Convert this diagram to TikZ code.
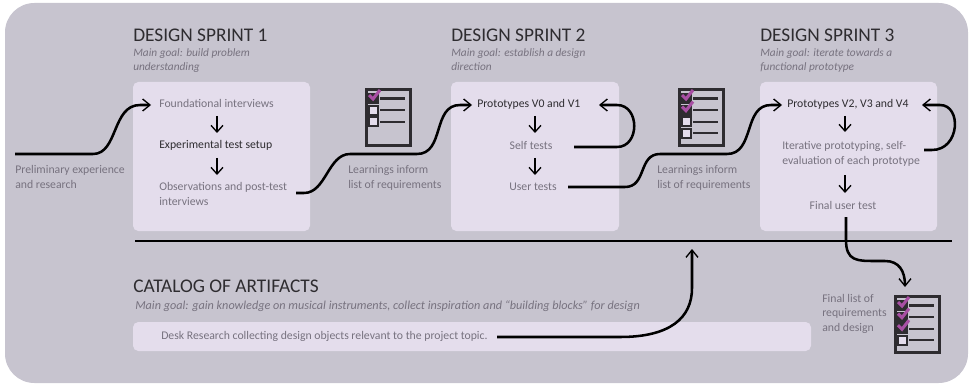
\documentclass[tikz,border=0pt]{standalone}
\usepackage{fontspec}
\setmainfont{Carlito}
\usetikzlibrary{arrows.meta}
\definecolor{panelgray}{HTML}{C7C4CF}
\definecolor{boxlilac}{HTML}{E4DDEC}
\definecolor{textgray}{HTML}{77727F}
\definecolor{textdark}{HTML}{2E2C30}
\definecolor{checkpurple}{HTML}{A84FA4}
\tikzset{
  sprintbox/.style={fill=boxlilac,rounded corners=4pt},
  heading/.style={anchor=west,inner sep=0pt,text=textdark,font=\fontsize{14.5}{16}\selectfont},
  goal/.style={anchor=north west,inner sep=0pt,align=left,text=textgray,font=\fontsize{8.5}{10.5}\selectfont\itshape},
  label/.style={anchor=north west,inner sep=0pt,align=left,text=textgray,font=\fontsize{8.8}{11.1}\selectfont},
  labelc/.style={label,anchor=center,align=center},
  strong/.style={text=textdark},
  flow/.style={line width=1.9pt,-{Straight Barb[length=5.5pt,width=9pt,line width=1pt]}},
  flowend/.style={line width=1.9pt},
  stepdown/.style={line width=1.4pt,-{Straight Barb[length=5pt,width=9pt,line width=1pt]}},
  listframe/.style={draw=textdark,line width=2pt,minimum width=33pt,minimum height=42pt,inner sep=0pt,anchor=north west},
}
% checklist icon: name, corner, rows, ticked rows
\newcommand{\reqlist}[4]{
  \node[listframe] (#1) at (#2) {};
  \foreach \row in {1,...,#3}{
    \draw[textdark,line width=1.5pt,fill=boxlilac] ([shift={(4,{6+11.6*(\row-1)})}]#1.north west) rectangle +(9,9);
    \draw[textdark,line width=1.7pt] ([shift={(15,{10.5+11.6*(\row-1)})}]#1.north west) -- +(25,0);
  }
  \foreach \row in {1,...,#4}{
    \fill[textdark] ([shift={(4,{6+11.6*(\row-1)})}]#1.north west) rectangle +(9,9);
    \draw[checkpurple,line width=2.3pt] ([shift={(4,{7+11.6*(\row-1)})}]#1.north west) -- +(4,4) -- +(11,-5);
  }
}

\begin{document}
\begin{tikzpicture}[x=0.75pt,y=-0.75pt]
\useasboundingbox (0,0) rectangle (972,385);
\fill[panelgray,rounded corners=22pt] (5,3) rectangle (968,383);

\fill[sprintbox] (133,82) rectangle (310,231);
\fill[sprintbox] (451,82) rectangle (619,231);
\fill[sprintbox] (760,82) rectangle (937,231);
\fill[sprintbox] (133,322) rectangle (811,351);

% sprint 1
\node[heading] (title1) at (133,35) {DESIGN SPRINT 1};
\node[goal] (goal1) at (133,48) {Main goal: build problem\\understanding};
\node[label] (found) at (159,99) {Foundational interviews};
\node[label,strong] (setup) at (159,140) {Experimental test setup};
\node[label] (obs) at (159,182) {Observations and post-test\\interviews};
\node[label] (prelim) at (15,165) {Preliminary experience\\and research};
\coordinate (prelimout) at (15,154);
\coordinate (obsout) at (296,193);
\draw[stepdown] (217,116) -- (217,133);
\draw[stepdown] (217,158) -- (217,175);

% sprint 2
\node[heading] (title2) at (451,35) {DESIGN SPRINT 2};
\node[goal] (goal2) at (451,48) {Main goal: establish a design\\direction};
\node[label,strong] (proto2) at (477,99) {Prototypes V0 and V1};
\node[labelc] (self) at (531,145) {Self tests};
\node[labelc] (user) at (533,187) {User tests};
\node[label] (learn1) at (348,165) {Learnings inform\\list of requirements};
\coordinate (selfout) at (574,147);
\coordinate (userout) at (568,187);
\draw[stepdown] (535,116) -- (535,133);
\draw[stepdown] (535,158) -- (535,175);

% sprint 3
\node[heading] (title3) at (760,35) {DESIGN SPRINT 3};
\node[goal] (goal3) at (760,48) {Main goal: iterate towards a\\functional prototype};
\node[label,strong] (proto3) at (787,99) {Prototypes V2, V3 and V4};
\node[label] (iter) at (782,141) {Iterative prototyping, self-\\evaluation of each prototype};
\node[labelc] (final) at (843,205) {Final user test};
\node[label] (learn2) at (657,165) {Learnings inform\\list of requirements};
\coordinate (iterout) at (924,150);
\coordinate (finalout) at (846,217);
\coordinate (listin) at (905,287);
\draw[stepdown] (845,116) -- (845,132);
\draw[stepdown] (845,175) -- (845,193);

% catalog
\node[heading] (title4) at (133,286) {CATALOG OF ARTIFACTS};
\node[goal,font=\fontsize{9.15}{10.5}\selectfont\itshape] (goal4) at (135,300) {Main goal: gain knowledge on musical instruments, collect inspiration and “building blocks” for design};
\node[label,anchor=west] (desk) at (161,336) {Desk Research collecting design objects relevant to the project topic.};
\node[label,font=\fontsize{8.8}{10.8}\selectfont] (finallist) at (822,294) {Final list of\\requirements\\and design};
\coordinate (deskout) at (497,337);
\coordinate (linehit) at (692,249);

\draw[flowend] (135,241) -- (952,241);

\draw[flow] (prelimout) -- (93,154) .. controls +(25,0) and +(-28,0) .. (140,105) -- (151,105);
\draw[flow] (obsout) -- (304,193) .. controls +(22,0) and +(-22,0) .. (350,154) -- (417,154) .. controls +(28,0) and +(-28,0) .. (460,105) -- (472,105);
\draw[flow] (selfout) -- (617,147) .. controls +(23,0) and +(23,0) .. (617,105) -- (599,105);
\draw[flow] (userout) -- (625,187) .. controls +(22,0) and +(-22,0) .. (660,154) -- (727,154) .. controls +(28,0) and +(-28,0) .. (771,105) -- (782,105);
\draw[flow] (iterout) -- (932,150) .. controls +(28,0) and +(22,0) .. (940,105) -- (922,105);
\draw[flow] (finalout) -- (846,240) .. controls +(0,21) and +(-18,0) .. (875,261) -- (885,261) .. controls +(14,0) and +(0,-16) .. (listin);
\draw[flow] (deskout) -- (620,337) .. controls +(50,0) and +(0,30) .. (692,288) -- (linehit);

\reqlist{list1}{365,88}{3}{1}
\reqlist{list2}{678,88}{4}{2}
\reqlist{list3}{894,295}{4}{3}
\end{tikzpicture}
\end{document}
